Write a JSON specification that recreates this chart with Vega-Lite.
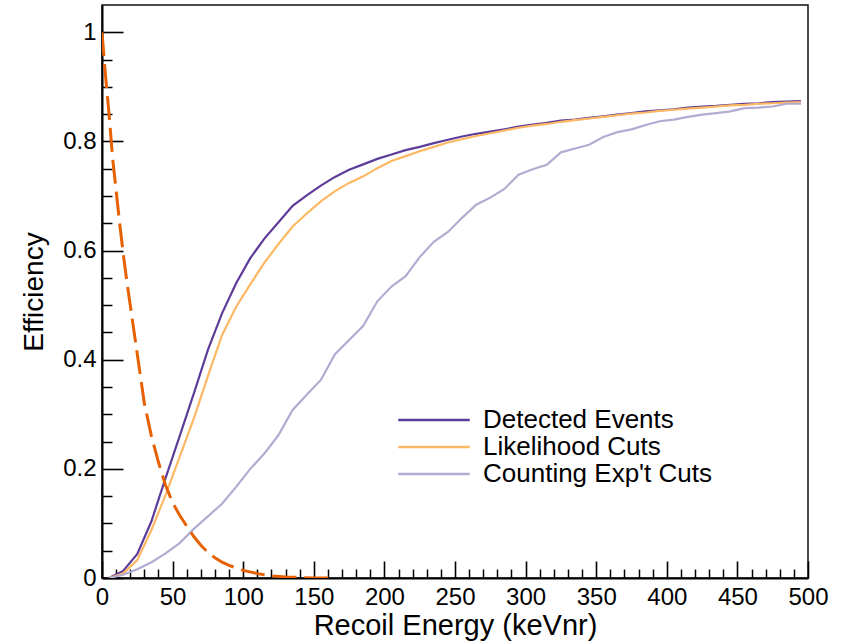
{
  "$schema": "https://vega.github.io/schema/vega-lite/v6.json",
  "width": 706,
  "height": 573,
  "autosize": {"type": "none"},
  "padding": {"left": 102, "top": 5, "right": 38, "bottom": 64},
  "background": "#ffffff",
  "config": {
    "font": "Liberation Sans",
    "view": {"stroke": "#111111", "strokeWidth": 1.5}
  },
  "datasets": {
    "eff": [
      {"series": "Detected Events", "energy": 5, "efficiency": 0.0},
      {"series": "Detected Events", "energy": 15, "efficiency": 0.013},
      {"series": "Detected Events", "energy": 25, "efficiency": 0.044},
      {"series": "Detected Events", "energy": 35, "efficiency": 0.104},
      {"series": "Detected Events", "energy": 45, "efficiency": 0.183},
      {"series": "Detected Events", "energy": 55, "efficiency": 0.26},
      {"series": "Detected Events", "energy": 65, "efficiency": 0.338},
      {"series": "Detected Events", "energy": 75, "efficiency": 0.418},
      {"series": "Detected Events", "energy": 85, "efficiency": 0.485},
      {"series": "Detected Events", "energy": 95, "efficiency": 0.54},
      {"series": "Detected Events", "energy": 105, "efficiency": 0.586},
      {"series": "Detected Events", "energy": 115, "efficiency": 0.622},
      {"series": "Detected Events", "energy": 125, "efficiency": 0.652},
      {"series": "Detected Events", "energy": 135, "efficiency": 0.682},
      {"series": "Detected Events", "energy": 145, "efficiency": 0.701},
      {"series": "Detected Events", "energy": 155, "efficiency": 0.719},
      {"series": "Detected Events", "energy": 165, "efficiency": 0.735},
      {"series": "Detected Events", "energy": 175, "efficiency": 0.748},
      {"series": "Detected Events", "energy": 185, "efficiency": 0.758},
      {"series": "Detected Events", "energy": 195, "efficiency": 0.768},
      {"series": "Detected Events", "energy": 205, "efficiency": 0.776},
      {"series": "Detected Events", "energy": 215, "efficiency": 0.784},
      {"series": "Detected Events", "energy": 225, "efficiency": 0.79},
      {"series": "Detected Events", "energy": 235, "efficiency": 0.797},
      {"series": "Detected Events", "energy": 245, "efficiency": 0.803},
      {"series": "Detected Events", "energy": 255, "efficiency": 0.809},
      {"series": "Detected Events", "energy": 265, "efficiency": 0.814},
      {"series": "Detected Events", "energy": 275, "efficiency": 0.818},
      {"series": "Detected Events", "energy": 285, "efficiency": 0.822},
      {"series": "Detected Events", "energy": 295, "efficiency": 0.827},
      {"series": "Detected Events", "energy": 305, "efficiency": 0.831},
      {"series": "Detected Events", "energy": 315, "efficiency": 0.834},
      {"series": "Detected Events", "energy": 325, "efficiency": 0.838},
      {"series": "Detected Events", "energy": 335, "efficiency": 0.84},
      {"series": "Detected Events", "energy": 345, "efficiency": 0.843},
      {"series": "Detected Events", "energy": 355, "efficiency": 0.846},
      {"series": "Detected Events", "energy": 365, "efficiency": 0.849},
      {"series": "Detected Events", "energy": 375, "efficiency": 0.852},
      {"series": "Detected Events", "energy": 385, "efficiency": 0.855},
      {"series": "Detected Events", "energy": 395, "efficiency": 0.857},
      {"series": "Detected Events", "energy": 405, "efficiency": 0.859},
      {"series": "Detected Events", "energy": 415, "efficiency": 0.862},
      {"series": "Detected Events", "energy": 425, "efficiency": 0.864},
      {"series": "Detected Events", "energy": 435, "efficiency": 0.865},
      {"series": "Detected Events", "energy": 445, "efficiency": 0.867},
      {"series": "Detected Events", "energy": 455, "efficiency": 0.869},
      {"series": "Detected Events", "energy": 465, "efficiency": 0.87},
      {"series": "Detected Events", "energy": 475, "efficiency": 0.872},
      {"series": "Detected Events", "energy": 485, "efficiency": 0.873},
      {"series": "Detected Events", "energy": 495, "efficiency": 0.874},
      {"series": "Likelihood Cuts", "energy": 5, "efficiency": 0.0},
      {"series": "Likelihood Cuts", "energy": 15, "efficiency": 0.008},
      {"series": "Likelihood Cuts", "energy": 25, "efficiency": 0.033},
      {"series": "Likelihood Cuts", "energy": 35, "efficiency": 0.088},
      {"series": "Likelihood Cuts", "energy": 45, "efficiency": 0.152},
      {"series": "Likelihood Cuts", "energy": 55, "efficiency": 0.222},
      {"series": "Likelihood Cuts", "energy": 65, "efficiency": 0.292},
      {"series": "Likelihood Cuts", "energy": 75, "efficiency": 0.37},
      {"series": "Likelihood Cuts", "energy": 85, "efficiency": 0.445},
      {"series": "Likelihood Cuts", "energy": 95, "efficiency": 0.497},
      {"series": "Likelihood Cuts", "energy": 105, "efficiency": 0.538},
      {"series": "Likelihood Cuts", "energy": 115, "efficiency": 0.578},
      {"series": "Likelihood Cuts", "energy": 125, "efficiency": 0.612},
      {"series": "Likelihood Cuts", "energy": 135, "efficiency": 0.644},
      {"series": "Likelihood Cuts", "energy": 145, "efficiency": 0.668},
      {"series": "Likelihood Cuts", "energy": 155, "efficiency": 0.69},
      {"series": "Likelihood Cuts", "energy": 165, "efficiency": 0.709},
      {"series": "Likelihood Cuts", "energy": 175, "efficiency": 0.724},
      {"series": "Likelihood Cuts", "energy": 185, "efficiency": 0.736},
      {"series": "Likelihood Cuts", "energy": 195, "efficiency": 0.751},
      {"series": "Likelihood Cuts", "energy": 205, "efficiency": 0.764},
      {"series": "Likelihood Cuts", "energy": 215, "efficiency": 0.773},
      {"series": "Likelihood Cuts", "energy": 225, "efficiency": 0.782},
      {"series": "Likelihood Cuts", "energy": 235, "efficiency": 0.79},
      {"series": "Likelihood Cuts", "energy": 245, "efficiency": 0.798},
      {"series": "Likelihood Cuts", "energy": 255, "efficiency": 0.804},
      {"series": "Likelihood Cuts", "energy": 265, "efficiency": 0.81},
      {"series": "Likelihood Cuts", "energy": 275, "efficiency": 0.815},
      {"series": "Likelihood Cuts", "energy": 285, "efficiency": 0.82},
      {"series": "Likelihood Cuts", "energy": 295, "efficiency": 0.825},
      {"series": "Likelihood Cuts", "energy": 305, "efficiency": 0.829},
      {"series": "Likelihood Cuts", "energy": 315, "efficiency": 0.832},
      {"series": "Likelihood Cuts", "energy": 325, "efficiency": 0.836},
      {"series": "Likelihood Cuts", "energy": 335, "efficiency": 0.839},
      {"series": "Likelihood Cuts", "energy": 345, "efficiency": 0.842},
      {"series": "Likelihood Cuts", "energy": 355, "efficiency": 0.845},
      {"series": "Likelihood Cuts", "energy": 365, "efficiency": 0.848},
      {"series": "Likelihood Cuts", "energy": 375, "efficiency": 0.851},
      {"series": "Likelihood Cuts", "energy": 385, "efficiency": 0.853},
      {"series": "Likelihood Cuts", "energy": 395, "efficiency": 0.856},
      {"series": "Likelihood Cuts", "energy": 405, "efficiency": 0.858},
      {"series": "Likelihood Cuts", "energy": 415, "efficiency": 0.86},
      {"series": "Likelihood Cuts", "energy": 425, "efficiency": 0.862},
      {"series": "Likelihood Cuts", "energy": 435, "efficiency": 0.864},
      {"series": "Likelihood Cuts", "energy": 445, "efficiency": 0.866},
      {"series": "Likelihood Cuts", "energy": 455, "efficiency": 0.867},
      {"series": "Likelihood Cuts", "energy": 465, "efficiency": 0.869},
      {"series": "Likelihood Cuts", "energy": 475, "efficiency": 0.87},
      {"series": "Likelihood Cuts", "energy": 485, "efficiency": 0.871},
      {"series": "Likelihood Cuts", "energy": 495, "efficiency": 0.872},
      {"series": "Counting Exp't Cuts", "energy": 5, "efficiency": 0.0},
      {"series": "Counting Exp't Cuts", "energy": 15, "efficiency": 0.006},
      {"series": "Counting Exp't Cuts", "energy": 25, "efficiency": 0.016},
      {"series": "Counting Exp't Cuts", "energy": 35, "efficiency": 0.029},
      {"series": "Counting Exp't Cuts", "energy": 45, "efficiency": 0.045},
      {"series": "Counting Exp't Cuts", "energy": 55, "efficiency": 0.064},
      {"series": "Counting Exp't Cuts", "energy": 65, "efficiency": 0.09},
      {"series": "Counting Exp't Cuts", "energy": 75, "efficiency": 0.113},
      {"series": "Counting Exp't Cuts", "energy": 85, "efficiency": 0.136},
      {"series": "Counting Exp't Cuts", "energy": 95, "efficiency": 0.167},
      {"series": "Counting Exp't Cuts", "energy": 105, "efficiency": 0.2},
      {"series": "Counting Exp't Cuts", "energy": 115, "efficiency": 0.228},
      {"series": "Counting Exp't Cuts", "energy": 125, "efficiency": 0.262},
      {"series": "Counting Exp't Cuts", "energy": 135, "efficiency": 0.308},
      {"series": "Counting Exp't Cuts", "energy": 145, "efficiency": 0.336},
      {"series": "Counting Exp't Cuts", "energy": 155, "efficiency": 0.363},
      {"series": "Counting Exp't Cuts", "energy": 165, "efficiency": 0.41},
      {"series": "Counting Exp't Cuts", "energy": 175, "efficiency": 0.436},
      {"series": "Counting Exp't Cuts", "energy": 185, "efficiency": 0.462},
      {"series": "Counting Exp't Cuts", "energy": 195, "efficiency": 0.507},
      {"series": "Counting Exp't Cuts", "energy": 205, "efficiency": 0.534},
      {"series": "Counting Exp't Cuts", "energy": 215, "efficiency": 0.553},
      {"series": "Counting Exp't Cuts", "energy": 225, "efficiency": 0.588},
      {"series": "Counting Exp't Cuts", "energy": 235, "efficiency": 0.616},
      {"series": "Counting Exp't Cuts", "energy": 245, "efficiency": 0.634},
      {"series": "Counting Exp't Cuts", "energy": 255, "efficiency": 0.66},
      {"series": "Counting Exp't Cuts", "energy": 265, "efficiency": 0.684},
      {"series": "Counting Exp't Cuts", "energy": 275, "efficiency": 0.697},
      {"series": "Counting Exp't Cuts", "energy": 285, "efficiency": 0.713},
      {"series": "Counting Exp't Cuts", "energy": 295, "efficiency": 0.739},
      {"series": "Counting Exp't Cuts", "energy": 305, "efficiency": 0.749},
      {"series": "Counting Exp't Cuts", "energy": 315, "efficiency": 0.757},
      {"series": "Counting Exp't Cuts", "energy": 325, "efficiency": 0.78},
      {"series": "Counting Exp't Cuts", "energy": 335, "efficiency": 0.787},
      {"series": "Counting Exp't Cuts", "energy": 345, "efficiency": 0.794},
      {"series": "Counting Exp't Cuts", "energy": 355, "efficiency": 0.808},
      {"series": "Counting Exp't Cuts", "energy": 365, "efficiency": 0.817},
      {"series": "Counting Exp't Cuts", "energy": 375, "efficiency": 0.822},
      {"series": "Counting Exp't Cuts", "energy": 385, "efficiency": 0.83},
      {"series": "Counting Exp't Cuts", "energy": 395, "efficiency": 0.837},
      {"series": "Counting Exp't Cuts", "energy": 405, "efficiency": 0.84},
      {"series": "Counting Exp't Cuts", "energy": 415, "efficiency": 0.845},
      {"series": "Counting Exp't Cuts", "energy": 425, "efficiency": 0.849},
      {"series": "Counting Exp't Cuts", "energy": 435, "efficiency": 0.852},
      {"series": "Counting Exp't Cuts", "energy": 445, "efficiency": 0.855},
      {"series": "Counting Exp't Cuts", "energy": 455, "efficiency": 0.861},
      {"series": "Counting Exp't Cuts", "energy": 465, "efficiency": 0.862},
      {"series": "Counting Exp't Cuts", "energy": 475, "efficiency": 0.864},
      {"series": "Counting Exp't Cuts", "energy": 485, "efficiency": 0.869},
      {"series": "Counting Exp't Cuts", "energy": 495, "efficiency": 0.869}
    ],
    "dash": [
      {"energy": 0, "efficiency": 1.0},
      {"energy": 2.5, "efficiency": 0.92},
      {"energy": 5, "efficiency": 0.85},
      {"energy": 7.5, "efficiency": 0.77},
      {"energy": 10, "efficiency": 0.71},
      {"energy": 12.5, "efficiency": 0.65},
      {"energy": 15, "efficiency": 0.595},
      {"energy": 17.5, "efficiency": 0.545},
      {"energy": 20, "efficiency": 0.5},
      {"energy": 22.5, "efficiency": 0.455},
      {"energy": 25, "efficiency": 0.41},
      {"energy": 27.5, "efficiency": 0.365},
      {"energy": 30, "efficiency": 0.32},
      {"energy": 35, "efficiency": 0.26},
      {"energy": 40, "efficiency": 0.212},
      {"energy": 45, "efficiency": 0.17},
      {"energy": 50, "efficiency": 0.138},
      {"energy": 55, "efficiency": 0.115},
      {"energy": 60, "efficiency": 0.095},
      {"energy": 65, "efficiency": 0.076},
      {"energy": 70, "efficiency": 0.06},
      {"energy": 75, "efficiency": 0.047},
      {"energy": 80, "efficiency": 0.037},
      {"energy": 85, "efficiency": 0.029},
      {"energy": 90, "efficiency": 0.023},
      {"energy": 100, "efficiency": 0.014},
      {"energy": 110, "efficiency": 0.008},
      {"energy": 120, "efficiency": 0.004},
      {"energy": 130, "efficiency": 0.002},
      {"energy": 140, "efficiency": 0.001},
      {"energy": 150, "efficiency": 0.0},
      {"energy": 165, "efficiency": 0.0}
    ]
  },
  "resolve": {"axis": {"x": "independent", "y": "independent"}},
  "layer": [
    {
      "data": {"name": "eff"},
      "mark": {"type": "line", "strokeWidth": 2.2, "clip": true},
      "encoding": {
        "x": {
          "field": "energy",
          "type": "quantitative",
          "scale": {"domain": [0, 500], "nice": false, "zero": false},
          "axis": {
            "orient": "bottom",
            "title": "Recoil Energy (keVnr)",
            "values": [0, 50, 100, 150, 200, 250, 300, 350, 400, 450, 500],
            "format": "d",
            "ticks": false,
            "grid": true,
            "gridColor": "#000000",
            "gridOpacity": 1,
            "gridWidth": 1.6,
            "gridDash": [17, 556],
            "gridDashOffset": 17,
            "domainColor": "#000000",
            "domainWidth": 2,
            "labelFont": "Liberation Sans",
            "labelFontSize": 24,
            "labelColor": "#000000",
            "labelPadding": 7,
            "labelFlush": false,
            "labelOverlap": false,
            "titleFont": "Liberation Sans",
            "titleFontSize": 29,
            "titleFontWeight": "normal",
            "titleColor": "#000000",
            "titlePadding": 2
          }
        },
        "y": {
          "field": "efficiency",
          "type": "quantitative",
          "scale": {"domain": [0, 1.05], "nice": false},
          "axis": {
            "orient": "left",
            "title": "Efficiency",
            "values": [0, 0.2, 0.4, 0.6, 0.8, 1],
            "format": "~g",
            "ticks": false,
            "grid": true,
            "gridColor": "#000000",
            "gridOpacity": 1,
            "gridWidth": 1.6,
            "gridDash": [21, 2000],
            "domainColor": "#000000",
            "domainWidth": 2,
            "labelFont": "Liberation Sans",
            "labelFontSize": 24,
            "labelColor": "#000000",
            "labelPadding": 6,
            "labelFlush": false,
            "labelOverlap": false,
            "titleFont": "Liberation Sans",
            "titleFontSize": 28,
            "titleFontWeight": "normal",
            "titleColor": "#000000",
            "titlePadding": 14
          }
        },
        "color": {
          "field": "series",
          "type": "nominal",
          "scale": {
            "domain": ["Detected Events", "Likelihood Cuts", "Counting Exp't Cuts"],
            "range": ["#5e3c99", "#fdb863", "#b2abd2"]
          },
          "legend": {
            "title": null,
            "orient": "none",
            "legendX": 319,
            "legendY": 402,
            "padding": 0,
            "symbolType": "M-4,0H4",
            "symbolSize": 320,
            "symbolStrokeWidth": 2.5,
            "labelFont": "Liberation Sans",
            "labelFontSize": 26,
            "labelColor": "#000000",
            "labelOffset": 36,
            "labelLimit": 400,
            "rowPadding": 1
          }
        }
      }
    },
    {
      "data": {"name": "dash"},
      "mark": {"type": "line", "color": "#e66101", "strokeWidth": 3, "strokeDash": [24, 8], "clip": true},
      "encoding": {
        "x": {
          "field": "energy",
          "type": "quantitative",
          "axis": {
            "orient": "bottom",
            "title": null,
            "values": [10,20,30,40,60,70,80,90,110,120,130,140,160,170,180,190,210,220,230,240,260,270,280,290,310,320,330,340,360,370,380,390,410,420,430,440,460,470,480,490],
            "labels": false,
            "domain": false,
            "ticks": false,
            "grid": true,
            "gridColor": "#000000",
            "gridOpacity": 1,
            "gridWidth": 1.5,
            "gridDash": [9, 564],
            "gridDashOffset": 9
          }
        },
        "y": {
          "field": "efficiency",
          "type": "quantitative",
          "axis": {
            "orient": "left",
            "title": null,
            "values": [0.05,0.1,0.15,0.25,0.3,0.35,0.45,0.5,0.55,0.65,0.7,0.75,0.85,0.9,0.95],
            "labels": false,
            "domain": false,
            "ticks": false,
            "grid": true,
            "gridColor": "#000000",
            "gridOpacity": 1,
            "gridWidth": 1.5,
            "gridDash": [10, 2000]
          }
        }
      }
    }
  ]
}
